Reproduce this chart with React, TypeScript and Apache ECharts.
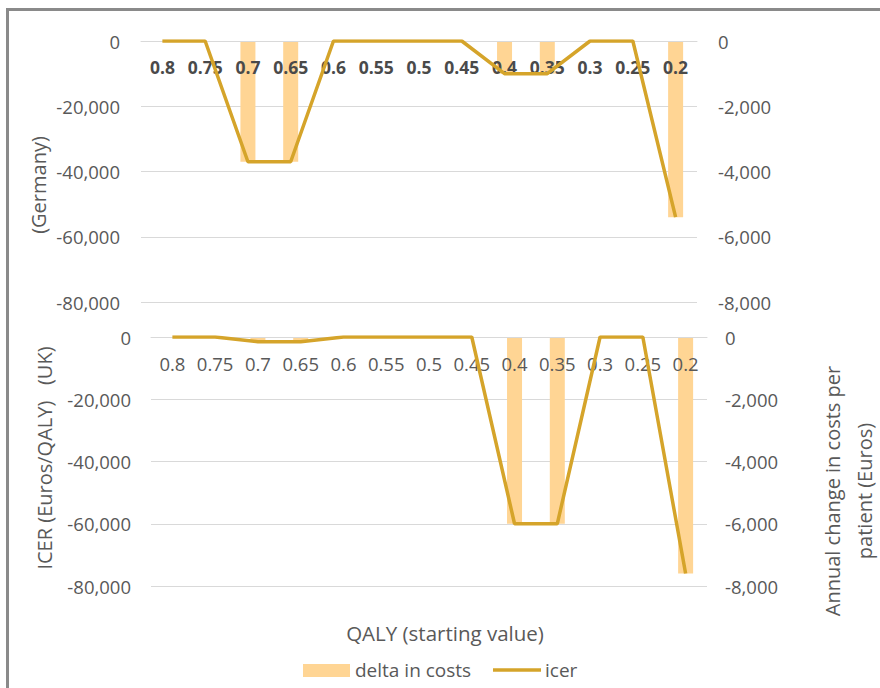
import React, { useEffect, useRef } from "react";
import * as echarts from "echarts";

const categories = ["0.8", "0.75", "0.7", "0.65", "0.6", "0.55", "0.5", "0.45", "0.4", "0.35", "0.3", "0.25", "0.2"];
const germanyIcer = [0, 0, -37000, -37000, 0, 0, 0, 0, -10000, -10000, 0, 0, -54000];
const germanyDelta = [0, 0, -3700, -3700, 0, 0, 0, 0, -1000, -1000, 0, 0, -5400];
const ukIcer = [0, 0, -1500, -1500, 0, 0, 0, 0, -60000, -60000, 0, 0, -76000];
const ukDelta = [0, 0, -150, -150, 0, 0, 0, 0, -6000, -6000, 0, 0, -7600];
const leftTicks = { min: -80000, max: 0, interval: 20000 };
const rightTicks = { min: -8000, max: 0, interval: 2000 };
const legendNames = ["delta in costs", "icer"];

const FONT = "Open Sans";
const LINE = "#D5A42A";
const BAR = "#FFD594";
const TXT = "#595959";
const GRIDC = "#D9D9D9";

const fmt = (v: number) => v.toLocaleString("en-US");

function yAx(gridIndex: number, pos: "left" | "right", t: typeof leftTicks, margin: number) {
  return {
    type: "value",
    gridIndex,
    position: pos,
    min: t.min,
    max: t.max,
    interval: t.interval,
    axisLine: { show: false },
    axisTick: { show: false },
    splitLine: { show: pos === "left", lineStyle: { color: GRIDC, width: 1 } },
    axisLabel: { formatter: fmt, color: TXT, fontFamily: FONT, fontSize: 18.5, margin },
  };
}

function xAx(gridIndex: number, bold: boolean, margin: number) {
  return {
    type: "category",
    gridIndex,
    position: "top",
    data: categories,
    boundaryGap: true,
    z: 2,
    axisLine: { show: true, onZero: false, lineStyle: { color: GRIDC, width: 1 } },
    axisTick: { show: false },
    axisLabel: {
      inside: true,
      interval: 0,
      color: bold ? "#4A4A4A" : TXT,
      fontWeight: bold ? "bold" : "normal",
      fontFamily: FONT,
      fontSize: bold ? 17.5 : 18.5,
      margin,
    },
  };
}

export default function App() {
  const ref = useRef<HTMLDivElement>(null);
  useEffect(() => {
    if (!ref.current) return;
    const chart = echarts.init(ref.current, null, { renderer: "svg" });
    chart.setOption({
      animation: false,
      backgroundColor: "#FFFFFF",
      grid: [
        { left: 141, right: 183, top: 41, height: 261 },
        { left: 151, right: 173, top: 337, height: 249 },
      ],
      xAxis: [xAx(0, true, 17), xAx(1, false, 17)],
      yAxis: [
        yAx(0, "left", leftTicks, 21),
        yAx(0, "right", rightTicks, 21),
        yAx(1, "left", leftTicks, 20),
        yAx(1, "right", rightTicks, 18),
      ],
      series: [
        {
          name: legendNames[0],
          type: "bar",
          xAxisIndex: 0,
          yAxisIndex: 1,
          data: germanyDelta,
          barWidth: 15,
          itemStyle: { color: BAR },
          z: 1,
        },
        {
          name: legendNames[1],
          type: "line",
          xAxisIndex: 0,
          yAxisIndex: 0,
          data: germanyIcer,
          symbol: "none",
          lineStyle: { color: LINE, width: 3.5 },
          itemStyle: { color: LINE },
          z: 3,
        },
        {
          name: legendNames[0],
          type: "bar",
          xAxisIndex: 1,
          yAxisIndex: 3,
          data: ukDelta,
          barWidth: 15,
          itemStyle: { color: BAR },
          z: 1,
        },
        {
          name: legendNames[1],
          type: "line",
          xAxisIndex: 1,
          yAxisIndex: 2,
          data: ukIcer,
          symbol: "none",
          lineStyle: { color: LINE, width: 3.5 },
          itemStyle: { color: LINE },
          z: 3,
        },
      ],
      graphic: [
        { type: "rect", shape: { x: 6, y: 8, width: 3, height: 690 }, style: { fill: "#8A8A8A" } },
        { type: "rect", shape: { x: 6, y: 8, width: 880, height: 3 }, style: { fill: "#8A8A8A" } },
        {
          type: "text",
          x: 38,
          y: 185,
          rotation: Math.PI / 2,
          style: { text: "(Germany)", fill: TXT, font: `20px '${FONT}'`, textAlign: "center", textVerticalAlign: "middle" },
        },
        {
          type: "text",
          x: 44,
          y: 458,
          rotation: Math.PI / 2,
          style: {
            text: "ICER (Euros/QALY)   (UK)",
            fill: TXT,
            font: `20px '${FONT}'`,
            textAlign: "center",
            textVerticalAlign: "middle",
          },
        },
        {
          type: "text",
          x: 848,
          y: 491,
          rotation: Math.PI / 2,
          style: {
            text: "Annual change in costs per\npatient (Euros)",
            fill: TXT,
            font: `20px '${FONT}'`,
            lineHeight: 32,
            textAlign: "center",
            textVerticalAlign: "middle",
          },
        },
        {
          type: "text",
          x: 445,
          y: 633,
          style: {
            text: "QALY (starting value)",
            fill: TXT,
            font: `20.5px '${FONT}'`,
            textAlign: "center",
            textVerticalAlign: "middle",
          },
        },
        { type: "rect", shape: { x: 303, y: 664, width: 47, height: 13 }, style: { fill: BAR } },
        {
          type: "text",
          x: 355,
          y: 670,
          style: { text: legendNames[0], fill: TXT, font: `19px '${FONT}'`, textAlign: "left", textVerticalAlign: "middle" },
        },
        {
          type: "line",
          shape: { x1: 493, y1: 670, x2: 541, y2: 670 },
          style: { stroke: LINE, lineWidth: 3.5 },
        },
        {
          type: "text",
          x: 545,
          y: 670,
          style: { text: legendNames[1], fill: TXT, font: `19px '${FONT}'`, textAlign: "left", textVerticalAlign: "middle" },
        },
      ],
    });
    return () => chart.dispose();
  }, []);
  return (
    <div
      ref={ref}
      style={{ position: "fixed", left: 0, top: 0, width: 880, height: 688, background: "#fff" }}
    />
  );
}
